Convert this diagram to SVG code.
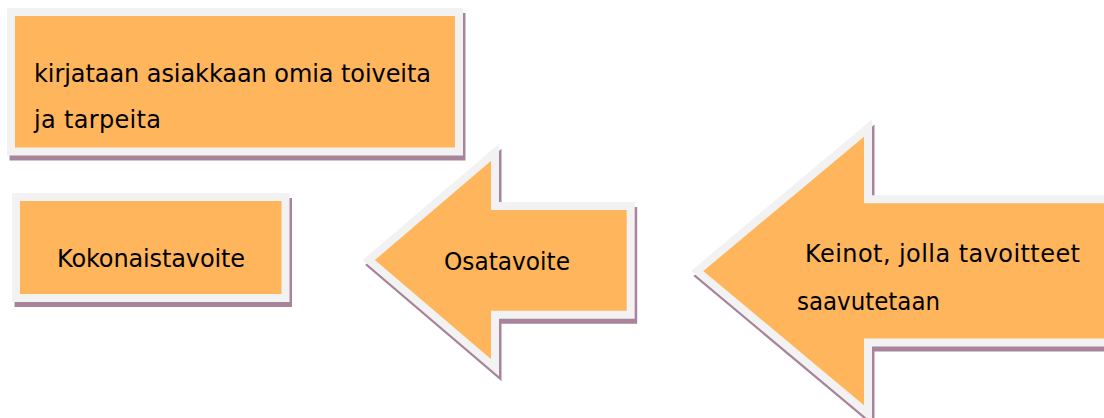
<svg xmlns="http://www.w3.org/2000/svg" width="1104" height="418" viewBox="0 0 1104 418">
  <style>
    .shape { fill: #ffb55b; stroke: #f2f2f2; stroke-width: 8; stroke-linejoin: miter; stroke-miterlimit: 10; }
    .shadow { fill: #a8849b; stroke: #a8849b; stroke-width: 8; stroke-linejoin: miter; stroke-miterlimit: 10; }
    .label { font-family: "DejaVu Sans", Verdana, sans-serif; font-size: 24px; fill: #000000; }
  </style>
  <rect width="1104" height="418" fill="#ffffff"/>
  <g id="node-toiveet">
    <rect class="shadow" x="13.5" y="17" width="448" height="139.5"/>
    <rect class="shape" x="11" y="12" width="448" height="139.5"/>
    <text class="label" x="34" y="81.5" textLength="397" lengthAdjust="spacing">kirjataan asiakkaan omia toiveita</text>
    <text class="label" x="34" y="128" textLength="127" lengthAdjust="spacing">ja tarpeita</text>
  </g>
  <g id="node-kokonaistavoite">
    <rect class="shadow" x="18.5" y="202" width="269.5" height="101"/>
    <rect class="shape" x="16" y="197" width="269.5" height="101"/>
    <text class="label" x="57" y="266.5" textLength="188" lengthAdjust="spacing">Kokonaistavoite</text>
  </g>
  <g id="node-osatavoite">
    <polygon class="shadow" transform="translate(2.5,5)" points="368.8,260 495,152.3 495,206 630.7,206 630.7,314.7 495,314.7 495,367.7"/>
    <polygon class="shape" points="368.8,260 495,152.3 495,206 630.7,206 630.7,314.7 495,314.7 495,367.7"/>
    <text class="label" x="444" y="270" textLength="126" lengthAdjust="spacingAndGlyphs">Osatavoite</text>
  </g>
  <g id="node-keinot">
    <polygon class="shadow" transform="translate(2.5,5)" points="697.1,271 868,128.1 868,199.3 1120,199.3 1120,342.5 868,342.5 868,413.9"/>
    <polygon class="shape" points="697.1,271 868,128.1 868,199.3 1120,199.3 1120,342.5 868,342.5 868,413.9"/>
    <text class="label" x="805" y="261.7" textLength="275" lengthAdjust="spacing">Keinot, jolla tavoitteet</text>
    <text class="label" x="797" y="310" textLength="143" lengthAdjust="spacingAndGlyphs">saavutetaan</text>
  </g>
  <g id="connectors"/>
</svg>
